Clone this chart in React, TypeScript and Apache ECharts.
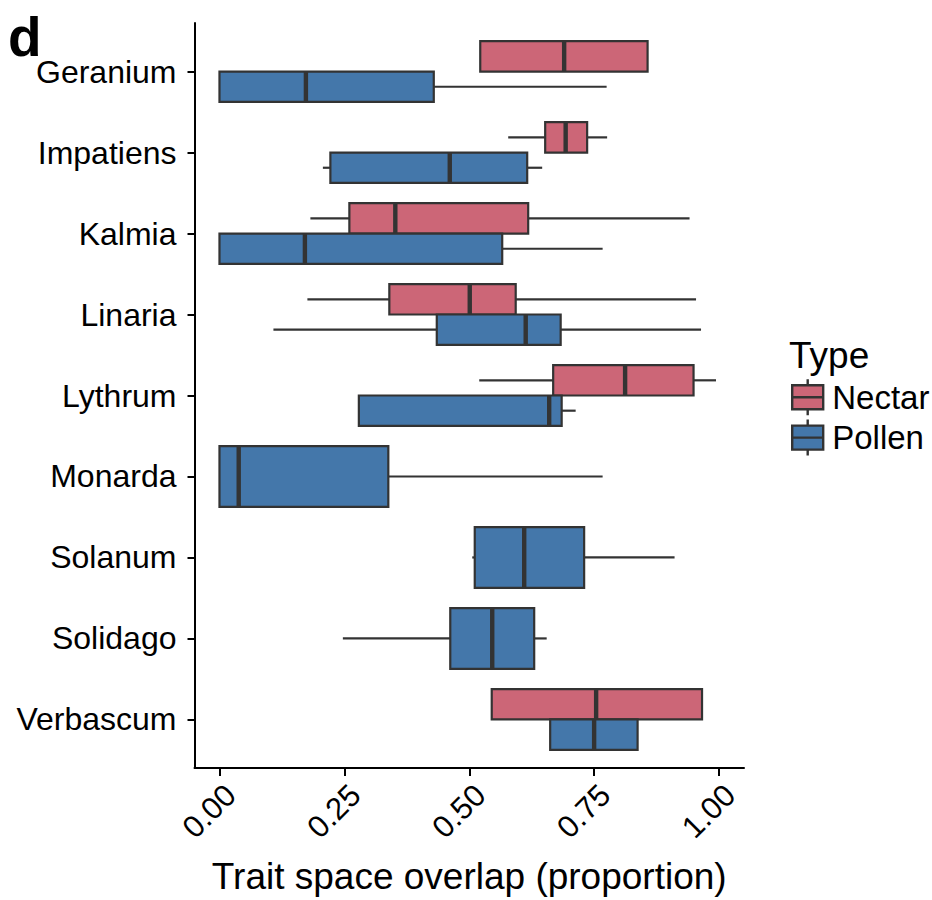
import React, { useEffect, useRef } from 'react';
import * as echarts from 'echarts';

const categories = ['Geranium', 'Impatiens', 'Kalmia', 'Linaria', 'Lythrum', 'Monarda', 'Solanum', 'Solidago', 'Verbascum'];
const typeNames = ['Nectar', 'Pollen'];
// [min, q1, median, q3, max] per category (null = no data)
const nectarStats: (number[] | null)[] = [
  [0.522, 0.522, 0.690, 0.857, 0.857],
  [0.578, 0.652, 0.693, 0.736, 0.776],
  [0.182, 0.260, 0.352, 0.618, 0.941],
  [0.176, 0.340, 0.501, 0.593, 0.954],
  [0.520, 0.668, 0.812, 0.949, 0.994],
  null,
  null,
  null,
  [0.545, 0.545, 0.754, 0.966, 0.966],
];
const pollenStats: (number[] | null)[] = [
  [0.000, 0.000, 0.173, 0.429, 0.775],
  [0.207, 0.222, 0.461, 0.616, 0.646],
  [0.000, 0.000, 0.171, 0.566, 0.767],
  [0.108, 0.435, 0.613, 0.683, 0.964],
  [0.279, 0.279, 0.660, 0.685, 0.713],
  [0.000, 0.000, 0.0385, 0.338, 0.767],
  [0.506, 0.511, 0.610, 0.730, 0.911],
  [0.247, 0.462, 0.546, 0.630, 0.655],
  [0.662, 0.662, 0.750, 0.837, 0.837],
];
const xTicks = [0, 0.25, 0.5, 0.75, 1];
const yTicks = categories.map((_, i) => i);

const COLORS = ['#CC6677', '#4477AA'];
const LINE = '#333333';
const FONT = '"Liberation Sans", Arial, Helvetica, sans-serif';
const LEGEND_ICON = 'path://M0,6L30,6L30,30L0,30Z M0,18L30,18 M15,0L15,6 M15,30L15,36';

export default function App() {
  const ref = useRef<HTMLDivElement>(null);
  useEffect(() => {
    const chart = echarts.init(ref.current as HTMLDivElement, null, { renderer: 'svg' });
    const statsList = [nectarStats, pollenStats];
    const both = categories.map((_, i) => nectarStats[i] != null && pollenStats[i] != null);

    const makeRender = (slot: number) => (params: any, api: any) => {
      const cat = api.value(0);
      const dodge = both[cat];
      const h = dodge ? 0.375 : 0.75;
      const yc = dodge ? cat + (slot === 0 ? -0.1875 : 0.1875) : cat;
      const unit = Math.abs(api.size([0, 1])[1]);
      const hp = h * unit;
      const pMin = api.coord([api.value(1), yc]);
      const pQ1 = api.coord([api.value(2), yc]);
      const pMed = api.coord([api.value(3), yc]);
      const pQ3 = api.coord([api.value(4), yc]);
      const pMax = api.coord([api.value(5), yc]);
      const y = pMed[1];
      const lineStyle = { stroke: LINE, lineWidth: 2.2, fill: 'none' };
      const children: any[] = [];
      if (pQ1[0] - pMin[0] > 0.5) {
        children.push({ type: 'line', shape: { x1: pMin[0], y1: y, x2: pQ1[0], y2: y }, style: lineStyle });
      }
      if (pMax[0] - pQ3[0] > 0.5) {
        children.push({ type: 'line', shape: { x1: pQ3[0], y1: y, x2: pMax[0], y2: y }, style: lineStyle });
      }
      children.push({
        type: 'rect',
        shape: { x: pQ1[0], y: y - hp / 2, width: pQ3[0] - pQ1[0], height: hp },
        style: { fill: COLORS[slot], stroke: LINE, lineWidth: 2.2 },
      });
      children.push({
        type: 'line',
        shape: { x1: pMed[0], y1: y - hp / 2, x2: pMed[0], y2: y + hp / 2 },
        style: { stroke: LINE, lineWidth: 4.4 },
      });
      return { type: 'group', children };
    };

    const series = typeNames.map((name, slot) => ({
      type: 'custom',
      name,
      itemStyle: { color: COLORS[slot] },
      encode: { x: [1, 2, 3, 4, 5], y: 0 },
      data: statsList[slot]
        .map((s, i) => (s ? [i, ...s] : null))
        .filter((d) => d != null),
      renderItem: makeRender(slot),
    }));

    chart.setOption({
      animation: false,
      backgroundColor: '#ffffff',
      textStyle: { fontFamily: FONT },
      grid: { left: 194.5, right: 188, top: 23, bottom: 130, containLabel: false },
      xAxis: {
        type: 'value',
        min: -0.05,
        max: 1.05,
        name: 'Trait space overlap (proportion)',
        nameLocation: 'middle',
        nameGap: 90,
        nameTextStyle: { fontSize: 37, color: '#000', fontFamily: FONT },
        axisLine: { show: true, onZero: false, lineStyle: { color: '#000', width: 2 } },
        axisTick: { show: true, length: 8, customValues: xTicks, lineStyle: { color: '#000', width: 2 } },
        axisLabel: {
          customValues: xTicks,
          rotate: 45,
          align: 'right',
          verticalAlign: 'top',
          margin: 11,
          fontSize: 31,
          color: '#000',
          fontFamily: FONT,
          formatter: (v: number) => v.toFixed(2),
        },
        splitLine: { show: false },
      },
      yAxis: {
        type: 'value',
        inverse: true,
        min: -0.6,
        max: 8.6,
        axisLine: { show: true, onZero: false, lineStyle: { color: '#000', width: 2 } },
        axisTick: { show: true, length: 7, customValues: yTicks, lineStyle: { color: '#000', width: 2 } },
        axisLabel: {
          customValues: yTicks,
          margin: 18,
          fontSize: 32,
          color: '#000',
          fontFamily: FONT,
          formatter: (v: number) => categories[Math.round(v)] ?? '',
        },
        splitLine: { show: false },
      },
      legend: {
        data: typeNames,
        orient: 'vertical',
        left: 791,
        top: 378,
        padding: 0,
        itemWidth: 31,
        itemHeight: 36,
        itemGap: 2,
        icon: LEGEND_ICON,
        symbolKeepAspect: false,
        selectedMode: false,
        itemStyle: { borderColor: LINE, borderWidth: 2.4 },
        textStyle: { fontSize: 33, color: '#000', fontFamily: FONT, padding: [0, 0, 0, 4] },
      },
      graphic: [
        {
          type: 'text',
          left: 8,
          top: 9,
          style: { text: 'd', fontSize: 55, fontWeight: 'bold', fill: '#000', fontFamily: FONT },
        },
        {
          type: 'text',
          left: 789,
          top: 337,
          style: { text: 'Type', fontSize: 37, fill: '#000', fontFamily: FONT },
        },
      ],
      series,
    });
    return () => chart.dispose();
  }, []);
  return <div ref={ref} style={{ position: 'absolute', left: 0, top: 0, width: 932, height: 900 }} />;
}
